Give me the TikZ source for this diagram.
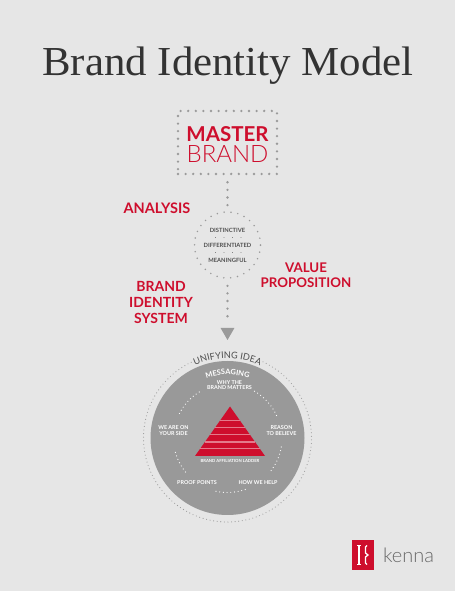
\documentclass[tikz,border=0pt]{standalone}
\usepackage{fontspec}
\usepackage{tikz}
\usetikzlibrary{shapes,positioning,decorations.text}
\setmainfont{Lato}
\newfontfamily\titlefont[FakeStretch=1.04]{Liberation Serif}
\newfontfamily\lightfont{Lato Light}
\definecolor{kennared}{HTML}{CE0E2D}
\definecolor{paper}{HTML}{E6E6E6}
\definecolor{dotgray}{HTML}{9A9A9A}
\definecolor{discgray}{HTML}{999999}
\definecolor{inkgray}{HTML}{4F4F4F}
\definecolor{titlegray}{HTML}{333333}
\newcommand{\fsz}[1]{\fontsize{#1}{#1}\selectfont}

\begin{document}
\begin{tikzpicture}[x=1pt,y=1pt,line width=1pt]
\tikzstyle{dots} = [draw=dotgray, line cap=round, line width=2.6pt, dash pattern=on 0pt off 7.6pt]
\tikzstyle{fine} = [draw=dotgray, line cap=round, line width=1.1pt, dash pattern=on 0pt off 3.6pt]
\tikzstyle{ring} = [draw=white, line cap=round, line width=1.2pt, dash pattern=on 0pt off 3.7pt]
\tikzstyle{head} = [text=kennared, font=\fsz{14}\bfseries, align=center, inner sep=0pt]
\tikzstyle{value} = [text=inkgray, font=\fsz{5.8}\bfseries, inner sep=0pt]
\tikzstyle{msg} = [text=white, font=\fsz{5.4}\bfseries, align=center, inner sep=0pt]

% Background
\fill[paper] (0,0) rectangle (455,591);
\useasboundingbox (0,0) rectangle (455,591);

% Title
\node [anchor=base, text=titlegray, font=\fsz{41.2}\titlefont, inner sep=0pt] (title) at (228,515) {Brand Identity Model};

% Master brand
\node [dots, minimum width=99pt, minimum height=63pt, inner sep=0pt] (master) at (227.5,448.5) {};
\node [text=kennared, font=\fsz{20.5}\bfseries, inner sep=0pt] (masterT) at (227.5,457) {MASTER};
\node [below of=masterT, node distance=20pt, text=kennared, font=\fsz{24}\lightfont, inner sep=0pt] (brandT) {BRAND};

% Value circle
\node [circle, draw=dotgray, line cap=round, line width=1.7pt, dash pattern=on 0pt off 6.9pt, minimum size=66pt, inner sep=0pt] (value) at (227.5,346) {};
\node [value] (differ) at (value.center) {DIFFERENTIATED};
\node [value, above of=differ, node distance=15pt] (distinct) {DISTINCTIVE};
\node [value, below of=differ, node distance=15pt] (mean) {MEANINGFUL};
\path (distinct) -- coordinate (gapA) (differ);
\path (differ) -- coordinate (gapB) (mean);
\draw[draw=inkgray, line cap=round, line width=.6pt, dash pattern=on 0pt off 8.5pt] ([xshift=-12pt]gapA) -- ([xshift=14pt]gapA);
\draw[draw=inkgray, line cap=round, line width=.6pt, dash pattern=on 0pt off 8.5pt] ([xshift=-12pt]gapB) -- ([xshift=14pt]gapB);

% Labels
\node [head, font=\fsz{14.5}\bfseries] (analysis) at (157,383) {ANALYSIS};
\node [head, font=\fsz{13.3}\bfseries] (proposition) at (306,316) {VALUE\\[2pt]PROPOSITION};
\node [head] (system) at (161,289) {BRAND\\[2pt]IDENTITY\\[2pt]SYSTEM};

% Connectors
\node [regular polygon, regular polygon sides=3, shape border rotate=180, fill=dotgray, inner sep=0pt, minimum size=16pt] (tip) at (227.5,259) {};
\draw[dots] ([yshift=-7pt]master.south) -- (value.north);
\draw[dots] ([yshift=-7pt]value.south) -- ([yshift=4pt]tip.north);

% Disc
\node [circle, fill=discgray, minimum size=154pt, inner sep=0pt] (disc) at (227.5,153) {};
\draw[fine] (disc.center) ++(65:84) arc (65:-245:84);

% Curved labels
\path[decorate, decoration={text along path, text align=center, text={|\fsz{9.2}\color{inkgray}|UNIFYING IDEA}}]
  (disc.center) ++(140:79.5) arc (140:40:79.5);
\path[decorate, decoration={text along path, text align=center, text={|\fsz{7.4}\bfseries\color{white}|MESSAGING}}]
  (disc.center) ++(130:63.5) arc (130:50:63.5);

% Messaging ring
\draw[ring] (disc.center) ++(153:54) arc (153:118:54);
\draw[ring] (disc.center) ++(60:54) arc (60:23:54);
\draw[ring] (disc.center) ++(-9.5:54.5) arc (-9.5:-40.5:54.5);
\draw[ring] (disc.center) ++(-71:54.5) arc (-71:-104:54.5);
\draw[ring] (disc.center) ++(-141:54) arc (-141:-168:54);
\node [msg] (why) at (229.5,206) {WHY THE\\[-1pt]BRAND MATTERS};
\node [msg] (side) at (173.5,160) {WE ARE ON\\[.5pt]YOUR SIDE};
\node [msg] (reason) at (281.5,160) {REASON\\[.5pt]TO BELIEVE};
\node [msg] (proof) at (197,108) {PROOF POINTS};
\node [msg] (help) at (258,108) {HOW WE HELP};

% Ladder
\fill[kennared] (230,184.5) -- (195,135) -- (265,135) -- cycle;
\foreach \yy/\hw in {170.7/9.7,163.7/14.6,156.3/19.9,149/25,142.3/29.7}{
  \draw[draw=white!45!kennared, line width=1.1pt] (230-\hw,\yy) -- (230+\hw,\yy);
}
\node [text=white, font=\fsz{4.2}\bfseries, inner sep=0pt] (ladder) at (230,130) {BRAND AFFILIATION LADDER};

% Logo
\node [fill=kennared, minimum width=22pt, minimum height=30pt, inner sep=0pt] (logo) at (363,36) {};
\draw[white, line width=1.6pt] (359,27) -- (359,45);
\draw[white, line width=1.6pt] (357,45.5) -- (361,45.5) (357,26.5) -- (361,26.5);
\draw[white, line width=1.3pt] (367,45.5) -- (365.5,44) -- (365.5,38) -- (368,36) -- (365.5,34) -- (365.5,28) -- (367,26.5);
\node [right=8pt of logo, text=inkgray!85, font=\fsz{20}\lightfont, inner sep=0pt] (kenna) {kenna};
\end{tikzpicture}
\end{document}
